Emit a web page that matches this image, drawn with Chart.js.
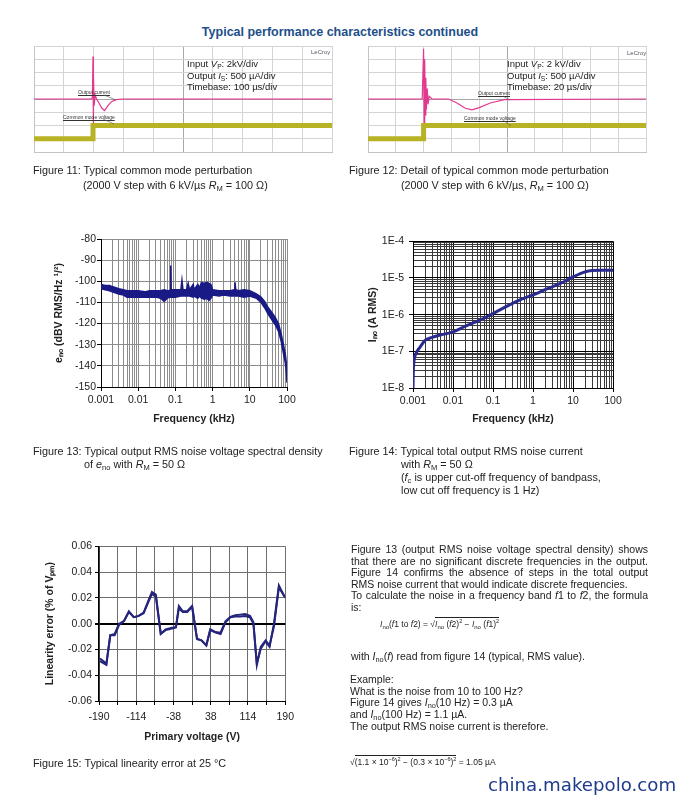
<!DOCTYPE html>
<html>
<head>
<meta charset="utf-8">
<script src="https://cdn.jsdelivr.net/npm/chart.js@4.4.1/dist/chart.umd.min.js"></script>
<style>
body { margin: 0; width: 680px; height: 798px; background: #fff; position: relative; overflow: hidden;
       font-family: "Liberation Sans", Arial, sans-serif; color: #222; }
.t { position: absolute; white-space: nowrap; font-size: 10.8px; line-height: 13px; }
.t sub { font-size: 70%; vertical-align: -2px; line-height: 0; }
.t sup { font-size: 65%; vertical-align: 4px; line-height: 0; }
canvas { position: absolute; }
.title { font-size: 12.5px; font-weight: bold; color: #1d4f8b; }
.scope { font-size: 9.5px; line-height: 11.5px; }
.tiny { font-size: 5px; line-height: 6px; text-decoration: underline; color: #333; }
.lecroy { font-size: 6px; color: #556; }
.par { width: 297px; font-size: 10.5px; line-height: 11.5px; }
.just { text-align: justify; text-align-last: justify; }
.small { font-size: 8.5px; line-height: 12px; }
.rad { display: inline-block; border-top: 1px solid #222; line-height: 11px; padding-top: 1px; }
.mark { font-family: "DejaVu Sans", sans-serif; font-size: 18.2px; color: #1f3b8c; line-height: 22px; }
</style>
</head>
<body>

<div class="t title" style="left:0;width:680px;top:26px;text-align:center">Typical performance characteristics continued</div>

<canvas id="scope11" width="300" height="108" style="left:33px;top:45px"></canvas>
<canvas id="scope12" width="280" height="108" style="left:367px;top:45px"></canvas>

<div class="t scope" style="left:187px;top:58px">Input <i>V</i><sub>P</sub>: 2kV/div<br>Output <i>I</i><sub>S</sub>: 500 µA/div<br>Timebase: 100 µs/div</div>
<div class="t scope" style="left:507px;top:58px">Input <i>V</i><sub>P</sub>: 2 kV/div<br>Output <i>I</i><sub>S</sub>: 500 µA/div<br>Timebase: 20 µs/div</div>
<div class="t lecroy" style="left:311px;top:46px">LeCroy</div>
<div class="t lecroy" style="left:627px;top:47px">LeCroy</div>
<div class="t tiny" style="left:78px;top:89px">Output current</div>
<div class="t tiny" style="left:63px;top:114px">Common mode voltage</div>
<div class="t tiny" style="left:478px;top:90px">Output current</div>
<div class="t tiny" style="left:464px;top:115px">Common mode voltage</div>
<svg width="680" height="798" style="position:absolute;left:0;top:0" fill="none" stroke="#555" stroke-width="0.6">
  <line x1="104" y1="95" x2="116" y2="100"/>
  <line x1="103" y1="119" x2="114" y2="124"/>
  <line x1="503" y1="96" x2="510" y2="100"/>
  <line x1="503" y1="120" x2="511" y2="126"/>
</svg>

<div class="t" style="left:33px;top:164px">Figure 11: Typical common mode perturbation</div>
<div class="t" style="left:83px;top:179px">(2000 V step with 6 kV/µs <i>R</i><sub>M</sub> = 100 Ω)</div>
<div class="t" style="left:349px;top:164px">Figure 12: Detail of typical common mode perturbation</div>
<div class="t" style="left:401px;top:179px">(2000 V step with 6 kV/µs, <i>R</i><sub>M</sub> = 100 Ω)</div>

<canvas id="fig13" width="260" height="195" style="left:40px;top:230px"></canvas>
<canvas id="fig14" width="276" height="195" style="left:350px;top:230px"></canvas>

<div class="t" style="left:33px;top:445px">Figure 13: Typical output RMS noise voltage spectral density</div>
<div class="t" style="left:84px;top:458px">of <i>e</i><sub>no</sub> with <i>R</i><sub>M</sub> = 50 Ω</div>
<div class="t" style="left:349px;top:445px">Figure 14: Typical total output RMS noise current</div>
<div class="t" style="left:401px;top:458px">with <i>R</i><sub>M</sub> = 50 Ω<br>(<i>f</i><sub>c</sub> is upper cut-off frequency of bandpass,<br>low cut off frequency is 1 Hz)</div>

<canvas id="fig15" width="270" height="206" style="left:30px;top:537px"></canvas>
<div class="t" style="left:33px;top:757px">Figure 15: Typical linearity error at 25 °C</div>

<div class="t par just" style="left:351px;top:544px">Figure 13 (output RMS noise voltage spectral density) shows</div>
<div class="t par just" style="left:351px;top:555.5px">that there are no significant discrete frequencies in the output.</div>
<div class="t par just" style="left:351px;top:567px">Figure 14 confirms the absence of steps in the total output</div>
<div class="t par" style="left:351px;top:578.5px">RMS noise current that would indicate discrete frequencies.</div>
<div class="t par just" style="left:351px;top:590px">To calculate the noise in a frequency band <i>f</i>1 to <i>f</i>2, the formula</div>
<div class="t par" style="left:351px;top:601.5px">is:</div>
<div class="t small" style="left:380px;top:617px"><i>I</i><sub>no</sub>(<i>f</i>1 to <i>f</i>2) = √<span class="rad"><i>I</i><sub>no</sub> (<i>f</i>2)<sup>2</sup> − <i>I</i><sub>no</sub> (<i>f</i>1)<sup>2</sup></span></div>
<div class="t par" style="left:351px;top:651px">with <i>I</i><sub>no</sub>(<i>f</i>) read from figure 14 (typical, RMS value).</div>
<div class="t par" style="left:350px;top:674px;line-height:11.7px">Example:<br>What is the noise from 10 to 100 Hz?<br>Figure 14 gives <i>I</i><sub>no</sub>(10 Hz) = 0.3 µA<br>and <i>I</i><sub>no</sub>(100 Hz) = 1.1 µA.<br>The output RMS noise current is therefore.</div>
<div class="t small" style="left:350px;top:755px">√<span class="rad">(1.1 × 10<sup>−6</sup>)<sup>2</sup> − (0.3 × 10<sup>−6</sup>)<sup>2</sup></span> = 1.05 µA</div>

<div class="t mark" style="left:488px;top:774px">china.makepolo.com</div>

<script>
// ---- Figure 11 / 12 : scope traces, in screen divisions (10 x 8) ----
const scope11PinkX   = [0, 1.9, 1.96, 1.98, 1.99, 2.0, 2.02, 2.05, 2.1, 2.18, 2.28, 2.37, 2.48, 2.6, 2.75, 3.0, 10];
const scope11PinkY   = [4, 4, 4.1, 7.2, 1.0, 5.8, 3.5, 4.3, 4.0, 3.7, 3.3, 3.13, 3.5, 3.8, 3.95, 4.0, 4.0];
const scope11YellowX = [0, 1.98, 1.98, 10];
const scope11YellowY = [1.0, 1.0, 2.0, 2.0];

const scope12PinkX   = [0, 1.95, 2.0, 2.02, 2.04, 2.06, 2.08, 2.1, 2.13, 2.16, 2.2, 2.3, 2.9, 3.2, 3.5, 3.74, 4.0, 4.4, 4.9, 10];
const scope12PinkY   = [4, 4, 7.8, 2.2, 7.0, 2.8, 5.6, 3.2, 4.8, 3.6, 4.2, 4.0, 4.0, 3.7, 3.3, 3.18, 3.35, 3.7, 3.95, 4.0];
const scope12YellowX = [0, 2.0, 2.0, 10];
const scope12YellowY = [1.0, 1.0, 2.0, 2.0];

// ---- Figure 13 : noise spectral density band (kHz, dBV) ----
const freq13  = [0.001, 0.0013, 0.0017, 0.002, 0.003, 0.004, 0.005, 0.007, 0.01, 0.015, 0.02, 0.03, 0.04, 0.05, 0.06,
                 0.07, 0.073, 0.075, 0.077, 0.1, 0.14, 0.15, 0.16, 0.2, 0.22, 0.24, 0.3, 0.32, 0.4, 0.45, 0.5, 0.6,
                 0.7, 0.8, 0.9, 1.0, 1.5, 2, 3, 3.8, 4, 4.2, 5, 7, 10, 15, 20, 25, 30, 40, 50, 60, 70, 80, 90, 95, 100];
const upper13 = [-101.5, -102, -102, -102.5, -103.5, -104, -104.5, -104.5, -104.5, -105, -104.5, -104.5, -104.5, -104, -104.5,
                 -104.5, -104, -92.5, -104, -104, -104, -99.5, -104, -104, -101, -104, -101.5, -104, -101.5, -103, -100.5, -101,
                 -100.5, -101, -101.5, -104, -104.5, -104.5, -104.5, -104, -100.5, -104, -104.5, -104, -104.5, -106, -107.5, -109.5,
                 -112, -115, -117.5, -120.5, -125, -130, -134.5, -138, -144];
const lower13 = [-103.5, -104, -104.5, -105, -106, -106.5, -107.5, -107.5, -107.5, -107.5, -107.5, -107.5, -108, -109.5, -108,
                 -107.5, -107.5, -107, -107.5, -107.5, -107, -107, -107, -107, -107, -107, -107.5, -107, -108, -107, -108, -108.5,
                 -108, -109, -108, -106.5, -107, -106.5, -107, -107, -106.5, -107, -107, -107.5, -107, -108, -110, -112.5,
                 -115, -118.5, -121, -124, -128.5, -134, -138.5, -142, -148];
const decades13 = [0.001, 0.01, 0.1, 1, 10, 100];
const xLabels13 = ['0.001', '0.01', '0.1', '1', '10', '100'];

// ---- Figure 14 : total output noise current (kHz, A RMS) ----
const freq14  = [0.001, 0.00102, 0.00105, 0.0011, 0.0012, 0.0013, 0.0015, 0.002, 0.003, 0.005, 0.01, 0.02, 0.05,
                 0.1, 0.2, 0.5, 1, 2, 5, 10, 20, 30, 50, 100];
const noise14 = [1e-8, 3e-8, 5e-8, 7e-8, 9e-8, 1.05e-7, 1.3e-7, 2.0e-7, 2.4e-7, 2.8e-7, 3.4e-7, 4.8e-7, 7.3e-7,
                 1.07e-6, 1.6e-6, 2.6e-6, 3.45e-6, 4.8e-6, 7.2e-6, 1.07e-5, 1.47e-5, 1.6e-5, 1.62e-5, 1.62e-5];
const decades14 = [1e-8, 1e-7, 1e-6, 1e-5, 1e-4];
const yLabels14 = ['1E-8', '1E-7', '1E-6', '1E-5', '1E-4'];

// ---- Figure 15 : linearity error (V, % of VPM), two sweeps ----
const volts15 = [-188, -175, -167, -158, -149, -139, -129, -119, -109, -99, -89, -82, -74, -64, -54, -43, -33, -27, -19,
                 -10, 0, 10, 19, 29, 37, 48, 58, 68, 78, 88, 98, 108, 118, 125, 132, 140, 150, 158, 167, 177, 187, 190];
const errA15 = [-0.027, -0.031, -0.009, -0.008, 0.000, 0.002, 0.0096, 0.005, 0.006, 0.0085, 0.018, 0.0245, 0.0225, -0.0078,
                -0.0044, -0.0034, -0.0026, 0.0137, 0.0096, 0.0096, 0.0137, -0.0116, -0.0129, -0.0168, -0.0044, -0.0065, -0.007,
                0.0018, 0.0052, 0.0065, 0.007, 0.0075, 0.006, 0.0013, -0.031, -0.0194, -0.0137, -0.018, 0.000, 0.0297, 0.022, 0.021];
const errB15 = [-0.029, -0.032, -0.009, -0.009, -0.001, 0.002, 0.009, 0.005, 0.006, 0.008, 0.017, 0.023, 0.021, -0.008,
                -0.005, -0.004, -0.003, 0.012, 0.009, 0.009, 0.013, -0.012, -0.013, -0.017, -0.005, -0.007, -0.008,
                0.001, 0.005, 0.0055, 0.0055, 0.006, 0.005, 0.000, -0.032, -0.018, -0.013, -0.017, -0.002, 0.028, 0.022, 0.020];
const xLabels15 = [-190, -114, -38, 38, 114, 190];

Chart.defaults.font.family = '"Liberation Sans", Arial, sans-serif';
Chart.defaults.font.size = 10.5;
Chart.defaults.color = '#222';
Chart.defaults.animation = false;
Chart.defaults.responsive = false;
Chart.defaults.plugins.legend.display = false;
Chart.defaults.plugins.tooltip.enabled = false;
Chart.defaults.elements.point.radius = 0;

function points(xs, ys) {
    return xs.map((x, i) => ({x: x, y: ys[i]}));
}

// 1..9 per decade, for the log grids
function logTicks(decades) {
    const out = [];
    decades.forEach((d, i) => {
        if (i === decades.length - 1) {
            out.push({value: d});
        } else {
            for (let k = 1; k <= 9; k++) out.push({value: k * d});
        }
    });
    return out;
}

function fixWidth(w) { return (axis) => { axis.width = w; }; }
function fixHeight(h) { return (axis) => { axis.height = h; }; }
const majorTick = (c) => (c.index % 9 === 0 ? '#000' : 'rgba(0,0,0,0)');

function makeScope(id, pinkX, pinkY, yellowX, yellowY) {
    const gridColor = (ctx, mid) => (ctx.tick && ctx.tick.value === mid) ? '#a8a8a8' : '#d4d4d4';
    new Chart(document.getElementById(id), {
        type: 'line',
        data: {
            datasets: [
                {data: points(yellowX, yellowY), borderColor: '#b8b325', borderWidth: 5, tension: 0},
                {data: points(pinkX, pinkY), borderColor: '#e2398f', borderWidth: 1.2, tension: 0},
            ]
        },
        options: {
            layout: {padding: 1},
            scales: {
                x: {type: 'linear', min: 0, max: 10,
                    ticks: {display: false, stepSize: 1},
                    grid: {color: (c) => gridColor(c, 5), drawTicks: false},
                    border: {color: '#c4c4c4'},
                    afterFit: fixHeight(0)},
                y: {type: 'linear', min: 0, max: 8,
                    ticks: {display: false, stepSize: 1},
                    grid: {color: (c) => gridColor(c, 4), drawTicks: false},
                    border: {color: '#c4c4c4'},
                    afterFit: fixWidth(0)},
            }
        }
    });
}

makeScope('scope11', scope11PinkX, scope11PinkY, scope11YellowX, scope11YellowY);
makeScope('scope12', scope12PinkX, scope12PinkY, scope12YellowX, scope12YellowY);

const boldTitle = {size: 10.5, weight: 'bold'};

// Figure 13
new Chart(document.getElementById('fig13'), {
    type: 'line',
    data: {
        datasets: [
            {data: points(freq13, upper13), borderColor: '#1a1a86', borderWidth: 1.5, fill: false},
            {data: points(freq13, lower13), borderColor: '#1a1a86', borderWidth: 1.5, fill: '-1', backgroundColor: '#1a1a86'},
        ]
    },
    options: {
        layout: {padding: {top: 9, right: 13, left: 0, bottom: 0}},
        scales: {
            x: {type: 'logarithmic', min: 0.001, max: 100,
                afterBuildTicks: (scale) => { scale.ticks = logTicks(decades13); },
                ticks: {autoSkip: false, maxRotation: 0, padding: 3,
                        callback: (v, i) => (i % 9 === 0 ? xLabels13[i / 9] : '')},
                grid: {color: '#8c8c8c', tickColor: majorTick, tickLength: 4},
                border: {color: '#000'},
                title: {display: true, text: 'Frequency (kHz)', font: boldTitle, padding: {top: 0, bottom: 0}},
                afterFit: fixHeight(38)},
            y: {type: 'linear', min: -150, max: -80,
                ticks: {stepSize: 10, padding: 1},
                grid: {color: '#8c8c8c', tickColor: '#000', tickLength: 4},
                border: {color: '#000'},
                title: {display: true, text: 'eₙₒ (dBV RMS/Hz ¹/²)', font: boldTitle, padding: {top: 13, bottom: 0}},
                afterFit: fixWidth(61)},
        }
    }
});

// Figure 14
new Chart(document.getElementById('fig14'), {
    type: 'line',
    data: {
        datasets: [
            {data: points(freq14, noise14), borderColor: '#2a2a8e', borderWidth: 3, tension: 0.3, cubicInterpolationMode: 'monotone'},
        ]
    },
    options: {
        layout: {padding: {top: 9, right: 13, left: 0, bottom: 0}},
        scales: {
            x: {type: 'logarithmic', min: 0.001, max: 100,
                afterBuildTicks: (scale) => { scale.ticks = logTicks(decades13); },
                ticks: {autoSkip: false, maxRotation: 0, padding: 3,
                        callback: (v, i) => (i % 9 === 0 ? xLabels13[i / 9] : '')},
                grid: {color: (c) => (c.index % 9 === 0 ? '#000' : '#3a3a3a'), tickColor: majorTick, tickLength: 4},
                border: {color: '#000'},
                title: {display: true, text: 'Frequency (kHz)', font: boldTitle, padding: {top: 0, bottom: 0}},
                afterFit: fixHeight(37)},
            y: {type: 'logarithmic', min: 1e-8, max: 1e-4,
                afterBuildTicks: (scale) => { scale.ticks = logTicks(decades14); },
                ticks: {autoSkip: false, padding: 5,
                        callback: (v, i) => (i % 9 === 0 ? yLabels14[i / 9] : '')},
                grid: {color: (c) => (c.index % 9 === 0 ? '#000' : '#3a3a3a'), tickColor: majorTick, tickLength: 4},
                border: {color: '#000'},
                title: {display: true, text: 'Iₙₒ (A RMS)', font: boldTitle, padding: {top: 17, bottom: 0}},
                afterFit: fixWidth(63)},
        }
    }
});

// Figure 15
new Chart(document.getElementById('fig15'), {
    type: 'line',
    data: {
        datasets: [
            {data: points(volts15, errA15), borderColor: '#25257c', borderWidth: 2, tension: 0},
            {data: points(volts15, errB15), borderColor: '#25257c', borderWidth: 2, tension: 0},
        ]
    },
    options: {
        layout: {padding: {top: 9, right: 13, left: 0, bottom: 0}},
        scales: {
            x: {type: 'linear', min: -190, max: 190,
                ticks: {stepSize: 38, autoSkip: false, maxRotation: 0, padding: 6,
                        callback: (v) => (xLabels15.includes(Math.round(v)) ? String(Math.round(v)) : '')},
                grid: {color: '#6e6e6e', tickColor: '#000', tickLength: 4},
                border: {color: '#000'},
                title: {display: true, text: 'Primary voltage (V)', font: boldTitle, padding: {top: 0, bottom: 0}},
                afterFit: fixHeight(42)},
            y: {type: 'linear', min: -0.06, max: 0.06,
                ticks: {stepSize: 0.02, padding: 3,
                        callback: (v) => (Math.abs(v) < 1e-9 ? '0.00' : v.toFixed(2))},
                grid: {color: (c) => (c.tick && Math.abs(c.tick.value) < 1e-9 ? '#000' : '#6e6e6e'),
                       lineWidth: (c) => (c.tick && Math.abs(c.tick.value) < 1e-9 ? 2 : 1),
                       tickColor: '#000', tickLength: 4},
                border: {color: '#000', width: 1.5},
                title: {display: true, text: 'Linearity error (% of Vₚₘ)', font: boldTitle, padding: {top: 14, bottom: 0}},
                afterFit: fixWidth(69)},
        }
    }
});
</script>
</body>
</html>
